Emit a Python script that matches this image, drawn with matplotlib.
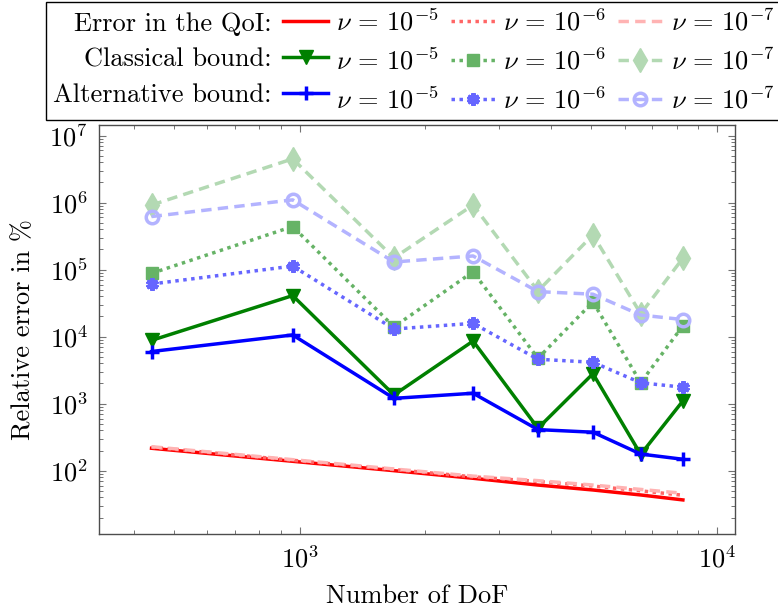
import numpy as np
import matplotlib
matplotlib.use("Agg")
import matplotlib.pyplot as plt
from matplotlib.lines import Line2D
from matplotlib.ticker import LogLocator, NullFormatter

plt.rcParams['font.family'] = 'serif'
plt.rcParams['font.serif'] = ['cmr10']
plt.rcParams['mathtext.fontset'] = 'cm'
plt.rcParams['axes.formatter.use_mathtext'] = True

# --- data ------------------------------------------------------------------
dof = [441, 961, 1681, 2601, 3721, 5041, 6561, 8281]

qoi_err_5 = [216, 138, 100, 77, 61, 51.5, 43.4, 36.6]
qoi_err_6 = [224, 143, 104, 81, 69, 59, 50, 43]
qoi_err_7 = [228, 146, 106, 83, 71, 61, 52.5, 46]

classical_5 = [8.8e3, 4.1e4, 1.35e3, 8.6e3, 4.3e2, 2.8e3, 1.75e2, 1.1e3]
classical_6 = [8.8e4, 4.4e5, 1.4e4, 9.3e4, 4.75e3, 3.3e4, 2.06e3, 1.45e4]
classical_7 = [9.2e5, 4.5e6, 1.5e5, 9.2e5, 4.8e4, 3.3e5, 2.2e4, 1.48e5]

alternative_5 = [6.0e3, 1.06e4, 1.2e3, 1.43e3, 4.1e2, 3.75e2, 1.77e2, 1.48e2]
alternative_6 = [6.1e4, 1.13e5, 1.3e4, 1.58e4, 4.6e3, 4.15e3, 2.05e3, 1.76e3]
alternative_7 = [6.2e5, 1.1e6, 1.3e5, 1.6e5, 4.7e4, 4.3e4, 2.1e4, 1.8e4]

nu_labels = [r'$\nu \,=\, 10^{-5}$', r'$\nu \,=\, 10^{-6}$', r'$\nu \,=\, 10^{-7}$']
row_labels = ['Error in the QoI:', 'Classical bound:', 'Alternative bound:']

# colours (xcolor style: full, !60, !30)
RED, RED60, RED30 = '#ff0000', '#ff6666', '#ffb3b3'
GREEN, GREEN60, GREEN30 = '#008000', '#66b366', '#b3d9b3'
BLUE, BLUE60, BLUE30 = '#0000ff', '#6666ff', '#b3b3ff'

LW = 2.5
DOTTED = (0, (1, 1.3))
DASHED = (0, (3, 1.8))
FS = 19

fig = plt.figure(figsize=(7.78, 6.14), dpi=100)
ax = fig.add_axes([99 / 778, 1 - 534 / 614, (735 - 99) / 778, (534 - 125) / 614])

# ---- error in the QoI ----
h_q5, = ax.plot(dof, qoi_err_5, color=RED, lw=LW, ls='-')
h_q6, = ax.plot(dof, qoi_err_6, color=RED60, lw=LW, ls=DOTTED)
h_q7, = ax.plot(dof, qoi_err_7, color=RED30, lw=LW, ls=DASHED)

# ---- classical bound ----
h_c5, = ax.plot(dof, classical_5, color=GREEN, lw=LW, ls='-',
                marker='v', ms=10)
h_c6, = ax.plot(dof, classical_6, color=GREEN60, lw=LW, ls=DOTTED,
                marker='s', ms=9)
h_c7, = ax.plot(dof, classical_7, color=GREEN30, lw=LW, ls=DASHED,
                marker='d', ms=12)

# ---- alternative bound ----
h_a5, = ax.plot(dof, alternative_5, color=BLUE, lw=LW, ls='-',
                marker='+', ms=10, mew=2.5)
h_a6, = ax.plot(dof, alternative_6, color=BLUE60, lw=LW, ls=DOTTED,
                marker=(6, 2, 0), ms=9, mew=3)
h_a7, = ax.plot(dof, alternative_7, color=BLUE30, lw=LW, ls=DASHED,
                marker='o', ms=9, mew=2.5, mfc='none')

ax.set_xscale('log')
ax.set_yscale('log')
ax.set_xlim(330, 11040)
ax.set_ylim(11.35, 1.44e7)

ax.yaxis.set_major_locator(LogLocator(base=10, numticks=20))
ax.yaxis.set_minor_locator(LogLocator(base=10, subs=np.arange(2, 10), numticks=20))
ax.yaxis.set_minor_formatter(NullFormatter())
ax.xaxis.set_minor_formatter(NullFormatter())

ax.tick_params(which='both', direction='in', top=True, right=True,
               color='0.45', labelsize=FS, pad=8)
ax.tick_params(which='major', length=5, width=0.8)
ax.tick_params(which='minor', length=3.2, width=0.7)
for sp in ax.spines.values():
    sp.set_color('0.3')
    sp.set_linewidth(1.0)

ax.set_xlabel('Number of DoF', fontsize=FS, labelpad=9)
ax.set_ylabel('Relative error in %', fontsize=FS, labelpad=10)

# ---- legend: 3 rows x 4 columns, text first then sample ----
blank = Line2D([], [], ls='none')
handles = [h_q5, h_c5, h_a5,
           h_q6, h_c6, h_a6,
           h_q7, h_c7, h_a7,
           blank, blank, blank]
labels = row_labels + [nu_labels[0]] * 3 + [nu_labels[1]] * 3 + [nu_labels[2]] * 3
leg = fig.legend(handles, labels, ncol=4, markerfirst=False, numpoints=1,
                 loc='upper left', bbox_to_anchor=(46 / 778, 1 - 2 / 614),
                 bbox_transform=fig.transFigure, frameon=True, fancybox=False,
                 edgecolor='black', framealpha=1, fontsize=FS,
                 handlelength=1.7, handletextpad=0.45, columnspacing=0.3,
                 labelspacing=0.46, borderpad=0.26, borderaxespad=0)
leg.get_frame().set_linewidth(1.0)

fig.savefig('out.png', dpi=100)
